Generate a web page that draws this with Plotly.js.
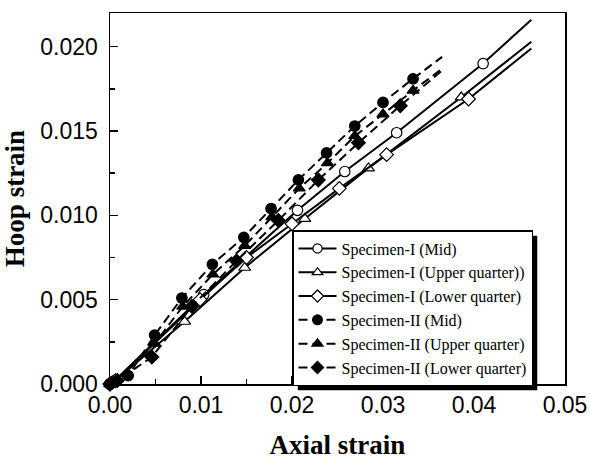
<!DOCTYPE html>
<html>
<head>
<meta charset="utf-8">
<script src="https://cdn.plot.ly/plotly-3.0.1.min.js"></script>
<style>html,body{margin:0;padding:0;background:#fff;}#chart{width:590px;height:461px;}</style>
</head>
<body>
<div id="chart"></div>
<script>
// Series names
const seriesNames = [
  "Specimen-I (Mid)",
  "Specimen-I (Upper quarter))",
  "Specimen-I (Lower quarter)",
  "Specimen-II (Mid)",
  "Specimen-II (Upper quarter)",
  "Specimen-II (Lower quarter)"
];

// Specimen-I (Mid): measured points (markers) + line end
const s1MidX = [0, 0.0005, 0.0103, 0.0206, 0.0258, 0.0315, 0.0410, 0.0463];
const s1MidY = [0, 0.0002, 0.0053, 0.0103, 0.0126, 0.0149, 0.0190, 0.0216];
const s1MidMarked = [1, 1, 1, 1, 1, 1, 1, 0];

// Specimen-I (Upper quarter)
const s1UpX = [0, 0.0008, 0.0082, 0.0148, 0.0214, 0.0284, 0.0386, 0.0463];
const s1UpY = [0, 0.0003, 0.0037, 0.0069, 0.0098, 0.0128, 0.0170, 0.0203];
const s1UpMarked = [1, 1, 1, 1, 1, 1, 1, 0];

// Specimen-I (Lower quarter)
const s1LoX = [0, 0.0006, 0.0099, 0.0150, 0.0200, 0.0252, 0.0304, 0.0394, 0.0463];
const s1LoY = [0, 0.0002, 0.0050, 0.0075, 0.0095, 0.0116, 0.0136, 0.0169, 0.0199];
const s1LoMarked = [1, 1, 1, 1, 1, 1, 1, 1, 0];

// Specimen-II (Mid)
const s2MidX = [0, 0.0003, 0.0020, 0.0049, 0.0079, 0.01125, 0.0147, 0.0177, 0.0207, 0.0238, 0.0269, 0.0300, 0.0333, 0.0365];
const s2MidY = [0, 0.0001, 0.0005, 0.0029, 0.0051, 0.0071, 0.0087, 0.0104, 0.0121, 0.0137, 0.0153, 0.0167, 0.0181, 0.0194];
const s2MidMarked = [1, 1, 1, 1, 1, 1, 1, 1, 1, 1, 1, 1, 1, 0];

// Specimen-II (Upper quarter)
const s2UpX = [0, 0.0005, 0.0049, 0.0080, 0.0113, 0.0148, 0.0178, 0.0208, 0.0239, 0.0269, 0.0300, 0.0333, 0.0365];
const s2UpY = [0, 0.0001, 0.0024, 0.0046, 0.0065, 0.0082, 0.0099, 0.0116, 0.0131, 0.0147, 0.0160, 0.0174, 0.0187];
const s2UpMarked = [1, 1, 1, 1, 1, 1, 1, 1, 1, 1, 1, 1, 0];

// Specimen-II (Lower quarter)
const s2LoX = [0, 0.0008, 0.0046, 0.0090, 0.0139, 0.0185, 0.0229, 0.0273, 0.0319, 0.0365];
const s2LoY = [0, 0.0002, 0.0016, 0.0046, 0.0073, 0.0097, 0.0121, 0.0143, 0.0165, 0.0186];
const s2LoMarked = [1, 1, 1, 1, 1, 1, 1, 1, 1, 0];

const xTickVals = [0, 0.01, 0.02, 0.03, 0.04, 0.05];
const xTickText = ["0.00", "0.01", "0.02", "0.03", "0.04", "0.05"];
const yTickVals = [0, 0.005, 0.010, 0.015, 0.020];
const yTickText = ["0.000", "0.005", "0.010", "0.015", "0.020"];

const MS = 10.5;
function mk(name, x, y, marked, symbol, fill, dash) {
  return {
    type: 'scatter', mode: 'lines+markers', name: name, x: x, y: y,
    cliponaxis: false,
    line: {color: '#000', width: 2, dash: dash},
    marker: {
      symbol: symbol,
      size: marked.map(m => m ? MS : 0),
      color: fill,
      opacity: 1,
      line: {color: '#000', width: 1.2}
    }
  };
}
const dashed = '9px,5px';
const data = [
  mk(seriesNames[0], s1MidX, s1MidY, s1MidMarked, 'circle', '#fff', 'solid'),
  mk(seriesNames[1], s1UpX, s1UpY, s1UpMarked, 'triangle-up', '#fff', 'solid'),
  mk(seriesNames[2], s1LoX, s1LoY, s1LoMarked, 'diamond', '#fff', 'solid'),
  mk(seriesNames[3], s2MidX, s2MidY, s2MidMarked, 'circle', '#000', dashed),
  mk(seriesNames[4], s2UpX, s2UpY, s2UpMarked, 'triangle-up', '#000', dashed),
  mk(seriesNames[5], s2LoX, s2LoY, s2LoMarked, 'diamond', '#000', dashed)
];

const axisCommon = {
  showgrid: false, zeroline: false,
  showline: true, linecolor: '#000', linewidth: 1.5, mirror: true,
  ticks: 'inside', ticklen: 8, tickwidth: 1.5, tickcolor: '#000',
  tickfont: {family: 'Liberation Sans, Arial, sans-serif', size: 23, color: '#000'},
  minor: {ticks: 'inside', ticklen: 5, tickwidth: 1.5, tickcolor: '#000'}
};

const layout = {
  width: 590, height: 461,
  margin: {l: 110, r: 25, t: 13, b: 77},
  paper_bgcolor: '#fff', plot_bgcolor: '#fff',
  showlegend: true,
  xaxis: Object.assign({}, axisCommon, {
    range: [0, 0.05], tickvals: xTickVals, ticktext: xTickText,
    minor: Object.assign({}, axisCommon.minor, {dtick: 0.005, tick0: 0}),
    title: {text: 'Axial strain', standoff: 18,
      font: {family: 'Liberation Serif, Times New Roman, serif', size: 27, weight: 'bold', color: '#000'}}
  }),
  yaxis: Object.assign({}, axisCommon, {
    range: [0, 0.022], tickvals: yTickVals, ticktext: yTickText,
    minor: Object.assign({}, axisCommon.minor, {dtick: 0.0025, tick0: 0}),
    ticklabelstandoff: 6,
    title: {text: 'Hoop strain', standoff: 8,
      font: {family: 'Liberation Serif, Times New Roman, serif', size: 27, weight: 'bold', color: '#000'}}
  }),
  legend: {
    x: 0.4, y: 0.415, xanchor: 'left', yanchor: 'top',
    bgcolor: '#fff', bordercolor: '#000', borderwidth: 1.5,
    font: {family: 'Liberation Serif, Times New Roman, serif', size: 16, color: '#000'},
    tracegroupgap: 0, itemwidth: 38
  },
  shapes: []
};

Plotly.newPlot('chart', data, layout, {displayModeBar: false, staticPlot: true}).then(function(gd) {
  // add a drop shadow behind the legend box, derived from the rendered legend size
  const bg = gd.querySelector('.legend .bg');
  const root = gd.getBoundingClientRect();
  if (!bg) return;
  const r = bg.getBoundingClientRect();
  const fs = gd._fullLayout._size;
  const off = 5;
  const toPX = px => (px - fs.l) / fs.w;
  const toPY = py => (fs.t + fs.h - py) / fs.h;
  const left = r.left - root.left, right = r.right - root.left;
  const top = r.top - root.top, bottom = r.bottom - root.top;
  return Plotly.relayout(gd, {shapes: [{
    type: 'rect', xref: 'paper', yref: 'paper', layer: 'above',
    x0: toPX(left + off), x1: toPX(right + off),
    y0: toPY(bottom + off), y1: toPY(top + off),
    fillcolor: '#000', line: {width: 0}
  }]});
});
</script>
</body>
</html>
